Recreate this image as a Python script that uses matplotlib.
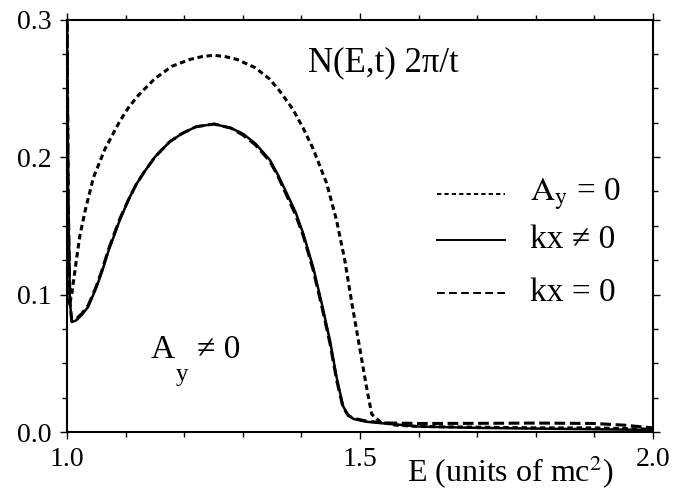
import matplotlib
matplotlib.use("Agg")
import matplotlib.pyplot as plt
from matplotlib.ticker import MultipleLocator, FormatStrFormatter

plt.rcParams['font.family'] = ['Liberation Serif', 'DejaVu Serif']
plt.rcParams['mathtext.fontset'] = 'stix'

# A_y = 0 (dotted)
E_a = [1.000, 1.002, 1.004, 1.008, 1.015, 1.022, 1.031, 1.045, 1.065, 1.09, 1.105, 1.122,
       1.15, 1.179, 1.21, 1.23, 1.251, 1.27, 1.29, 1.321, 1.345, 1.363, 1.385, 1.403,
       1.420, 1.443, 1.460, 1.474, 1.486, 1.500, 1.511, 1.520, 1.534, 1.56, 1.6, 1.7,
       1.8, 1.9, 2.0]
N_a = [0.31, 0.16, 0.092, 0.100, 0.122, 0.143, 0.161, 0.185, 0.206, 0.226, 0.236, 0.245,
       0.257, 0.266, 0.271, 0.273, 0.274, 0.273, 0.271, 0.265, 0.257, 0.248, 0.235, 0.221,
       0.206, 0.181, 0.154, 0.125, 0.094, 0.060, 0.033, 0.013, 0.0075, 0.005, 0.004, 0.0035,
       0.003, 0.003, 0.002]

# kx != 0 (solid)
E_s = [1.000, 1.002, 1.005, 1.008, 1.015, 1.025, 1.036, 1.05, 1.06, 1.071, 1.09, 1.105,
       1.118, 1.13, 1.15, 1.175, 1.196, 1.22, 1.251, 1.28, 1.30, 1.321, 1.346, 1.36, 1.375,
       1.39, 1.403, 1.420, 1.435, 1.449, 1.460, 1.471, 1.480, 1.489, 1.51, 1.54, 1.6, 1.7,
       1.8, 1.9, 2.0]
N_s = [0.31, 0.17, 0.095, 0.080, 0.081, 0.085, 0.091, 0.105, 0.117, 0.132, 0.154, 0.169,
       0.180, 0.188, 0.200, 0.211, 0.217, 0.222, 0.224, 0.221, 0.217, 0.210, 0.198, 0.187, 0.1736,
       0.160, 0.1445, 0.120, 0.093, 0.066, 0.040, 0.019, 0.012, 0.0095, 0.0075, 0.0063, 0.004,
       0.003, 0.0025, 0.002, 0.0015]

# kx = 0 (dashed)
E_d = [1.000, 1.002, 1.005, 1.008, 1.015, 1.025, 1.036, 1.05, 1.06, 1.071, 1.09, 1.105,
       1.118, 1.13, 1.15, 1.175, 1.196, 1.22, 1.251, 1.28, 1.30, 1.321, 1.346, 1.36, 1.375,
       1.39, 1.403, 1.420, 1.435, 1.449, 1.460, 1.471, 1.480, 1.489, 1.51, 1.54, 1.6, 1.7,
       1.8, 1.9, 1.95, 2.0]
N_d = [0.31, 0.17, 0.095, 0.081, 0.082, 0.086, 0.092, 0.106, 0.118, 0.133, 0.155, 0.169,
       0.180, 0.188, 0.200, 0.211, 0.217, 0.222, 0.224, 0.221, 0.216, 0.209, 0.197, 0.186, 0.172,
       0.158, 0.143, 0.118, 0.091, 0.064, 0.038, 0.018, 0.012, 0.010, 0.008, 0.0066, 0.0062,
       0.0063, 0.0065, 0.0062, 0.005, 0.003]

fig = plt.figure(figsize=(6.98, 4.94), dpi=100)
ax = fig.add_axes([0.096, 0.1255, 0.8395, 0.835])

ax.plot(E_a, N_a, color='black', lw=2.2, dashes=(1.8, 1.2))
ax.plot(E_s, N_s, color='black', lw=1.8)
ax.plot(E_d, N_d, color='black', lw=2.2, dashes=(3.5, 1.5))

ax.set_xlim(1.0, 2.0)
ax.set_ylim(0.0, 0.3)
ax.xaxis.set_major_locator(MultipleLocator(0.5))
ax.xaxis.set_minor_locator(MultipleLocator(0.1))
ax.yaxis.set_major_locator(MultipleLocator(0.1))
ax.yaxis.set_minor_locator(MultipleLocator(0.025))
ax.xaxis.set_major_formatter(FormatStrFormatter('%.1f'))
ax.yaxis.set_major_formatter(FormatStrFormatter('%.1f'))

ax.tick_params(which='both', direction='out', top=True, right=True, width=1.0)
ax.tick_params(which='major', length=5, labelsize=20, pad=6)
ax.tick_params(which='minor', length=3.5)
for s in ax.spines.values():
    s.set_linewidth(1.5)

# x label placed to the right
ax.text(0.756, -0.098, 'E (units of mc$^2$)', transform=ax.transAxes,
        fontsize=23, ha='center', va='center')

ax.text(0.54, 0.895, 'N(E,t) 2π/t', transform=ax.transAxes,
        fontsize=25, ha='center', va='center')

# bottom-left annotation
ax.text(0.142, 0.199, 'A', transform=ax.transAxes, fontsize=24, ha='left', va='center')
ax.text(0.185, 0.138, 'y', transform=ax.transAxes, fontsize=18, ha='left', va='center')
ax.text(0.222, 0.199, '≠ 0', transform=ax.transAxes, fontsize=24, ha='left', va='center')

# hand-made legend
leg_y = [0.577, 0.465, 0.337]
leg_labels = [r'$\mathrm{A_y}$ = 0', 'kx ≠ 0', 'kx = 0']
leg_dashes = [(2.2, 1.6), None, (4.0, 2.2)]
for y, lab, d in zip(leg_y, leg_labels, leg_dashes):
    kw = dict(color='black', lw=1.4, transform=ax.transAxes)
    if d is not None:
        kw['dashes'] = d
    ax.plot([0.631, 0.747], [y, y], **kw)
    ax.text(0.790, y, lab, transform=ax.transAxes, fontsize=24, ha='left', va='center')

fig.savefig('out.png', dpi=100)
